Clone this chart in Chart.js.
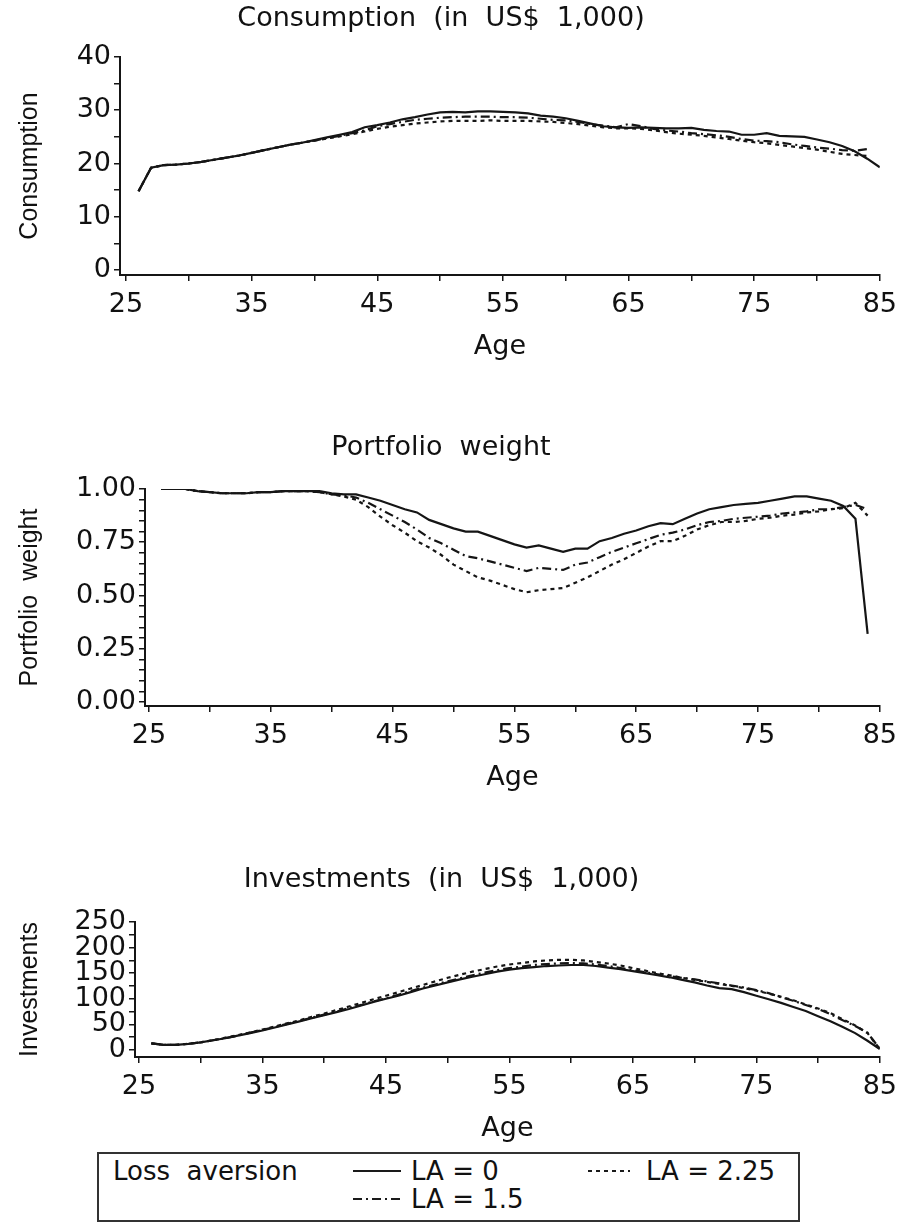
<!DOCTYPE html>
<html>
<head>
<meta charset="utf-8">
<script src="https://cdn.jsdelivr.net/npm/chart.js@4/dist/chart.umd.min.js"></script>
<style>
  body { margin: 0; background: #fff; }
  #page { position: relative; width: 905px; height: 1223px; overflow: hidden; }
  canvas { position: absolute; left: 0; }
  #legend {
    position: absolute; left: 97px; top: 1152px; width: 703px; height: 70px;
    box-sizing: border-box; border: 2px solid #333;
    font-family: 'DejaVu Sans', sans-serif; font-size: 26px; color: #111;
  }
  #legend .t { position: absolute; line-height: 28px; white-space: pre; }
  #legend svg { position: absolute; }
</style>
</head>
<body>
<div id="page">
  <canvas id="cons" width="905" height="390" style="top:0px"></canvas>
  <canvas id="weight" width="905" height="400" style="top:400px"></canvas>
  <canvas id="invest" width="905" height="310" style="top:840px"></canvas>
  <div id="legend">
    <div class="t" style="left:14px;top:3px">Loss  aversion</div>
    <svg style="left:254px;top:9px" width="50" height="20"><line x1="0" y1="8" x2="48" y2="8" stroke="#1a1a1a" stroke-width="2"/></svg>
    <div class="t" style="left:312px;top:3px">LA = 0</div>
    <svg style="left:489px;top:9px" width="44" height="20"><line x1="0" y1="8" x2="42" y2="8" stroke="#1a1a1a" stroke-width="2" stroke-dasharray="4 4"/></svg>
    <div class="t" style="left:547px;top:3px">LA = 2.25</div>
    <svg style="left:254px;top:37px" width="50" height="20"><line x1="0" y1="8" x2="48" y2="8" stroke="#1a1a1a" stroke-width="2" stroke-dasharray="9 4 2 4"/></svg>
    <div class="t" style="left:312px;top:31px">LA = 1.5</div>
  </div>
</div>
<script>
// ages (x values), every series starts at 26
const ages = [26, 27, 28, 29, 30, 31, 32, 33, 34, 35, 36, 37, 38, 39, 40, 41, 42, 43, 44, 45,
  46, 47, 48, 49, 50, 51, 52, 53, 54, 55, 56, 57, 58, 59, 60, 61, 62, 63, 64, 65,
  66, 67, 68, 69, 70, 71, 72, 73, 74, 75, 76, 77, 78, 79, 80, 81, 82, 83, 84, 85];

// consumption (US$ 1,000)
const consLA0 = [14.8, 19.2, 19.7, 19.8, 20.0, 20.3, 20.7, 21.1, 21.5, 22.0, 22.5, 23.0, 23.5, 23.9, 24.4,
  24.9, 25.4, 25.9, 26.8, 27.2, 27.7, 28.3, 28.7, 29.2, 29.6, 29.7, 29.6, 29.8, 29.8, 29.7,
  29.6, 29.4, 29.0, 28.8, 28.5, 28.0, 27.5, 27.0, 26.8, 26.7, 26.8, 26.7, 26.6, 26.6, 26.7,
  26.3, 26.1, 26.0, 25.4, 25.4, 25.7, 25.2, 25.1, 25.0, 24.5, 24.0, 23.3, 22.3, 20.9, 19.3];
const consLA15 = [14.8, 19.2, 19.7, 19.8, 20.0, 20.3, 20.7, 21.1, 21.5, 22.0, 22.5, 23.0, 23.5, 23.9, 24.3,
  24.8, 25.2, 25.7, 26.2, 27.0, 27.4, 27.8, 28.2, 28.4, 28.6, 28.7, 28.8, 28.8, 28.8, 28.7,
  28.7, 28.6, 28.4, 28.2, 28.1, 27.8, 27.4, 27.1, 26.8, 27.4, 27.0, 26.5, 26.2, 26.0, 25.7,
  25.5, 25.3, 25.0, 24.6, 24.3, 24.2, 24.0, 23.6, 23.3, 23.0, 22.8, 22.5, 22.4, 22.7];
const consLA225 = [14.8, 19.2, 19.7, 19.8, 20.0, 20.3, 20.7, 21.1, 21.5, 22.0, 22.5, 23.0, 23.5, 23.9, 24.3,
  24.7, 25.1, 25.5, 26.0, 26.5, 26.9, 27.2, 27.5, 27.7, 27.9, 28.0, 28.0, 28.0, 28.1, 28.0,
  28.0, 28.0, 27.9, 27.8, 27.6, 27.4, 27.1, 26.8, 26.6, 26.6, 26.5, 26.2, 25.9, 25.6, 25.4,
  25.2, 24.9, 24.6, 24.3, 24.0, 23.8, 23.5, 23.2, 22.9, 22.6, 22.2, 21.8, 21.6, 21.4];

// portfolio weight
const weightLA0 = [1.00, 1.00, 1.00, 0.99, 0.985, 0.98, 0.98, 0.98, 0.985, 0.985, 0.99, 0.99, 0.99, 0.99, 0.98,
  0.975, 0.975, 0.96, 0.945, 0.925, 0.905, 0.89, 0.855, 0.835, 0.815, 0.80, 0.80, 0.78, 0.76, 0.74,
  0.725, 0.735, 0.72, 0.705, 0.72, 0.72, 0.755, 0.77, 0.79, 0.805, 0.825, 0.84, 0.835, 0.86, 0.885,
  0.905, 0.915, 0.925, 0.93, 0.935, 0.945, 0.955, 0.965, 0.965, 0.955, 0.945, 0.92, 0.86, 0.32];
const weightLA15 = [1.00, 1.00, 1.00, 0.99, 0.985, 0.98, 0.98, 0.98, 0.985, 0.985, 0.99, 0.99, 0.99, 0.985, 0.975,
  0.97, 0.96, 0.935, 0.905, 0.875, 0.845, 0.81, 0.77, 0.745, 0.715, 0.685, 0.675, 0.66, 0.645, 0.63,
  0.615, 0.63, 0.625, 0.62, 0.645, 0.655, 0.68, 0.705, 0.725, 0.745, 0.765, 0.785, 0.795, 0.81, 0.83,
  0.845, 0.85, 0.86, 0.865, 0.87, 0.875, 0.885, 0.89, 0.895, 0.905, 0.905, 0.915, 0.925, 0.905];
const weightLA225 = [1.00, 1.00, 1.00, 0.99, 0.985, 0.98, 0.98, 0.98, 0.985, 0.985, 0.99, 0.99, 0.99, 0.985, 0.975,
  0.965, 0.95, 0.915, 0.87, 0.83, 0.795, 0.755, 0.725, 0.69, 0.645, 0.615, 0.585, 0.57, 0.55, 0.53,
  0.515, 0.525, 0.53, 0.535, 0.56, 0.585, 0.615, 0.645, 0.67, 0.70, 0.73, 0.755, 0.755, 0.78, 0.81,
  0.83, 0.845, 0.845, 0.85, 0.86, 0.865, 0.875, 0.88, 0.89, 0.895, 0.905, 0.91, 0.935, 0.875];

// investments (US$ 1,000)
const investLA0 = [13, 10, 10, 12, 15, 19, 23, 28, 33, 38, 44, 50, 56, 62, 68,
  74, 80, 87, 94, 100, 106, 113, 120, 126, 132, 138, 143, 148, 153, 157,
  160, 162, 164, 165, 166, 166, 164, 161, 158, 154, 150, 146, 142, 137, 132,
  126, 121, 119, 113, 106, 99, 92, 84, 76, 66, 56, 45, 33, 18, 2];
const investLA15 = [13, 10, 10, 12, 15, 19, 23, 28, 34, 39, 45, 51, 57, 63, 69,
  75, 82, 88, 95, 101, 108, 115, 122, 128, 134, 140, 146, 151, 156, 160,
  163, 166, 168, 169, 170, 169, 167, 164, 160, 156, 152, 148, 144, 141, 138,
  134, 130, 126, 122, 117, 111, 103, 96, 88, 80, 70, 58, 47, 34, 2];
const investLA225 = [13, 10, 10, 12, 15, 19, 24, 29, 34, 40, 46, 52, 58, 65, 71,
  78, 85, 92, 99, 106, 113, 120, 127, 134, 141, 147, 153, 158, 163, 167,
  170, 173, 175, 176, 176, 175, 172, 169, 165, 160, 155, 150, 146, 141, 137,
  133, 129, 125, 121, 116, 110, 104, 97, 89, 81, 72, 60, 48, 33, 2];

// tick values
const ageTicks = [25, 35, 45, 55, 65, 75, 85];
const ageMinor = [30, 40, 50, 60, 70, 80];
const consTicks = [0, 10, 20, 30, 40];
const consMinor = [5, 15, 25, 35];
const weightTicks = [0, 0.25, 0.5, 0.75, 1];
const weightMinor = [0.05, 0.1, 0.15, 0.2, 0.3, 0.35, 0.4, 0.45, 0.55, 0.6, 0.65, 0.7, 0.8, 0.85, 0.9, 0.95];
const investTicks = [0, 50, 100, 150, 200, 250];
const investMinor = [25, 75, 125, 175, 225];

const INK = '#151515';
const TEXT = '#111';
const DASHES = [[], [9, 4, 2, 4], [4, 4]];
const BIG = { family: 'DejaVu Sans', size: 27 };

function buildChart(id, p) {
  const datasets = p.series.map((s, i) => ({
    data: s.map((v, j) => ({ x: ages[j], y: v })),
    borderColor: INK,
    borderWidth: 2.2,
    borderDash: DASHES[i],
    pointRadius: 0,
    tension: 0,
    fill: false
  }));
  const axisGrid = { drawOnChartArea: false, drawTicks: true, tickLength: 6, color: INK, lineWidth: 1.5 };
  return new Chart(document.getElementById(id), {
    type: 'line',
    data: { datasets },
    options: {
      responsive: false,
      animation: false,
      events: [],
      layout: { padding: { left: 0, right: p.padRight, top: 0, bottom: p.padBottom } },
      plugins: {
        legend: { display: false },
        tooltip: { enabled: false },
        title: {
          display: true, text: p.title, color: TEXT,
          font: { family: 'DejaVu Sans', size: 27, weight: 'normal' },
          padding: { top: p.titleTop, bottom: p.titleBottom }
        }
      },
      scales: {
        x: {
          type: 'linear', min: p.xMin, max: 85,
          afterBuildTicks: s => { s.ticks = ageTicks.concat(ageMinor).sort((a, b) => a - b).map(v => ({ value: v })); },
          afterFit: s => { s.height = 88; },
          ticks: {
            autoSkip: false, maxRotation: 0, padding: 8, color: TEXT, font: BIG,
            callback: v => ageTicks.includes(v) ? String(v) : ''
          },
          grid: axisGrid,
          border: { display: true, color: INK, width: 2 },
          title: { display: true, text: 'Age', color: TEXT, font: BIG, padding: 0 }
        },
        y: {
          min: p.yMin, max: p.yMax,
          afterBuildTicks: s => { s.ticks = p.yTicks.concat(p.yMinor).sort((a, b) => a - b).map(v => ({ value: v })); },
          afterFit: s => { s.width = p.yAxisX; },
          ticks: {
            autoSkip: false, padding: 3, color: TEXT, font: BIG,
            callback: v => p.yTicks.includes(v) ? p.fmt(v) : ''
          },
          grid: axisGrid,
          border: { display: true, color: INK, width: 2 },
          title: {
            display: true, text: p.yTitle, color: TEXT,
            font: { family: 'Liberation Sans', size: 25 },
            padding: { top: 15, bottom: 0 }
          }
        }
      }
    }
  });
}

buildChart('cons', {
  title: 'Consumption  (in  US$  1,000)', yTitle: 'Consumption',
  series: [consLA0, consLA15, consLA225],
  xMin: 24.524, yMin: -0.94, yMax: 40, yAxisX: 120, padRight: 23, padBottom: 27,
  titleTop: 3, titleBottom: 21.6,
  yTicks: consTicks, yMinor: consMinor, fmt: v => String(v)
});

buildChart('weight', {
  title: 'Portfolio  weight', yTitle: 'Portfolio  weight',
  series: [weightLA0, weightLA15, weightLA225],
  xMin: 24.673, yMin: -0.0188, yMax: 1, yAxisX: 145, padRight: 23, padBottom: 6,
  titleTop: 31.8, titleBottom: 24.8,
  yTicks: weightTicks, yMinor: weightMinor, fmt: v => v.toFixed(2)
});

buildChart('invest', {
  title: 'Investments  (in  US$  1,000)', yTitle: 'Investments',
  series: [investLA0, investLA15, investLA225],
  xMin: 24.677, yMin: -13.7, yMax: 250, yAxisX: 135, padRight: 22, padBottom: 5,
  titleTop: 23.8, titleBottom: 25.8,
  yTicks: investTicks, yMinor: investMinor, fmt: v => String(v)
});
</script>
</body>
</html>
